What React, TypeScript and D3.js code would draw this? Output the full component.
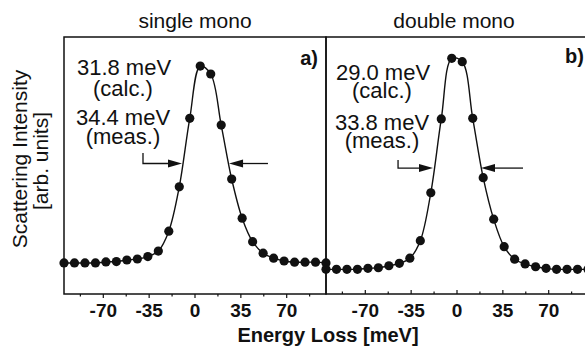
import React from "react";
import * as d3 from "d3";

// Energy grid (meV) shared by both panels
const energies = [
  -100, -92, -84, -76, -68, -60, -52, -44, -36, -28, -20, -12, -4, 4, 12, 20, 28,
  36, 44, 52, 60, 68, 76, 84, 92, 100,
];
// panel a) single mono, normalized intensity
const singleMono = [
  0, 0, 0, 0, 0.005, 0.007, 0.015, 0.02, 0.032, 0.06, 0.16, 0.383, 0.727, 0.99,
  0.95, 0.693, 0.422, 0.225, 0.107, 0.049, 0.024, 0.01, 0.004, 0.004, 0.004, 0,
];
// panel b) double mono
const doubleMono = [
  -0.032, -0.032, -0.032, -0.032, -0.027, -0.024, -0.014, -0.002, 0.024, 0.112,
  0.353, 0.724, 1.029, 1.012, 0.727, 0.429, 0.22, 0.082, 0.019, -0.005, -0.019,
  -0.027, -0.032, -0.032, -0.032, -0.032,
];
const majorTicks = [-70, -35, 0, 35, 70];
const minorTicks = [-87.5, -52.5, -17.5, 17.5, 52.5, 87.5];
const panelTitles = ["single mono", "double mono"];
const panelLabels = ["a)", "b)"];
const calcText = ["31.8 meV", "29.0 meV"];
const measText = ["34.4 meV", "33.8 meV"];
// FWHM arrow annotation, in data units: [bracketX, leftTip, rightTip, rightTail, yHalf, bracketTopY]
const fwhmArrows = [
  [-39.7, -9.9, 26, 55.7, 0.5, 0.553],
  [-45, -18.3, 18.3, 50.4, 0.477, 0.518],
];

const W = 585;
const H = 346;
const top = 37;
const bottom = 294;
const panelX = [
  [64, 326],
  [326, 588],
];
const font = "'Liberation Sans', Arial, Helvetica, sans-serif";
const ink = "#111";

export default function App() {
  const y = d3.scaleLinear().domain([-0.156, 1.136]).range([bottom, top]);
  const series = [singleMono, doubleMono];

  const annY = [
    { calc: 75, calcP: 96, meas: 125, measP: 144, cx: 123 },
    { calc: 80, calcP: 98, meas: 130, measP: 148, cx: 382 },
  ];

  return (
    <svg
      width={W}
      height={H}
      style={{ position: "absolute", left: 0, top: 0, background: "#fff" }}
    >
      <rect x={0} y={0} width={W} height={H} fill="#fff" />
      {series.map((vals, i) => {
        const x = d3.scaleLinear().domain([-100, 100]).range(panelX[i]);
        const pts = energies.map((e, k) => [x(e), y(vals[k])] as [number, number]);
        const line = d3.line().curve(d3.curveCatmullRom.alpha(0.5))(pts) || "";
        const inward = i === 1;
        const dir = inward ? -1 : 1;
        const a = fwhmArrows[i];
        const ay = y(a[4]);
        const head = (tipX: number, s: number) =>
          `M${tipX},${ay} L${tipX - s * 14},${ay - 4} L${tipX - s * 14},${ay + 4} Z`;
        const cx = (panelX[i][0] + panelX[i][1]) / 2;
        return (
          <g key={i}>
            <path d={line} fill="none" stroke={ink} strokeWidth={1.4} />
            {pts.map((p, k) => (
              <circle key={k} cx={p[0]} cy={p[1]} r={4.6} fill={ink} />
            ))}
            {/* ticks */}
            {majorTicks.map((t) => (
              <g key={"M" + t}>
                <line
                  x1={x(t)}
                  x2={x(t)}
                  y1={bottom}
                  y2={bottom + dir * 4}
                  stroke={ink}
                  strokeWidth={1.2}
                />
                <text
                  x={x(t)}
                  y={316.5}
                  textAnchor="middle"
                  fontFamily={font}
                  fontWeight="bold"
                  fontSize={19}
                  fill={ink}
                >
                  {t}
                </text>
              </g>
            ))}
            {minorTicks.map((t) => (
              <line
                key={"m" + t}
                x1={x(t)}
                x2={x(t)}
                y1={bottom}
                y2={bottom + dir * 2.5}
                stroke={ink}
                strokeWidth={1.2}
              />
            ))}
            {/* title */}
            <text
              x={i === 0 ? 195 : 454}
              y={28}
              textAnchor="middle"
              fontFamily={font}
              fontSize={21}
              fill={ink}
            >
              {panelTitles[i]}
            </text>
            <text
              x={i === 0 ? 318 : 584}
              y={i === 0 ? 65 : 63}
              textAnchor="end"
              fontFamily={font}
              fontWeight="bold"
              fontSize={20}
              fill={ink}
            >
              {panelLabels[i]}
            </text>
            {/* annotations */}
            <g fontFamily={font} fontSize={22} fill={ink} textAnchor="middle">
              <text x={annY[i].cx + 1} y={annY[i].calc}>
                {calcText[i]}
              </text>
              <text x={annY[i].cx} y={annY[i].calcP}>
                (calc.)
              </text>
              <text x={annY[i].cx} y={annY[i].meas}>
                {measText[i]}
              </text>
              <text x={annY[i].cx} y={annY[i].measP}>
                (meas.)
              </text>
            </g>
            <path
              d={`M${x(a[0])},${y(a[5])} L${x(a[0])},${ay} L${x(a[1]) - 12},${ay}`}
              fill="none"
              stroke={ink}
              strokeWidth={1.3}
            />
            <path d={head(x(a[1]), 1)} fill={ink} />
            <path
              d={`M${x(a[3])},${ay} L${x(a[2]) + 12},${ay}`}
              fill="none"
              stroke={ink}
              strokeWidth={1.3}
            />
            <path d={head(x(a[2]), -1)} fill={ink} />
            <rect
              x={panelX[i][0]}
              y={top}
              width={panelX[i][1] - panelX[i][0]}
              height={bottom - top}
              fill="none"
              stroke={ink}
              strokeWidth={1.5}
            />
            <g style={{ display: "none" }}>{cx}</g>
          </g>
        );
      })}
      {/* axis titles */}
      <text
        x={328}
        y={342}
        textAnchor="middle"
        fontFamily={font}
        fontWeight="bold"
        fontSize={20}
        fill={ink}
      >
        Energy Loss [meV]
      </text>
      <text
        transform="translate(27,159) rotate(-90)"
        textAnchor="middle"
        fontFamily={font}
        fontSize={21}
        fill={ink}
      >
        Scattering Intensity
      </text>
      <text
        transform="translate(48,161) rotate(-90)"
        textAnchor="middle"
        fontFamily={font}
        fontSize={21}
        fill={ink}
      >
        [arb. units]
      </text>
    </svg>
  );
}
